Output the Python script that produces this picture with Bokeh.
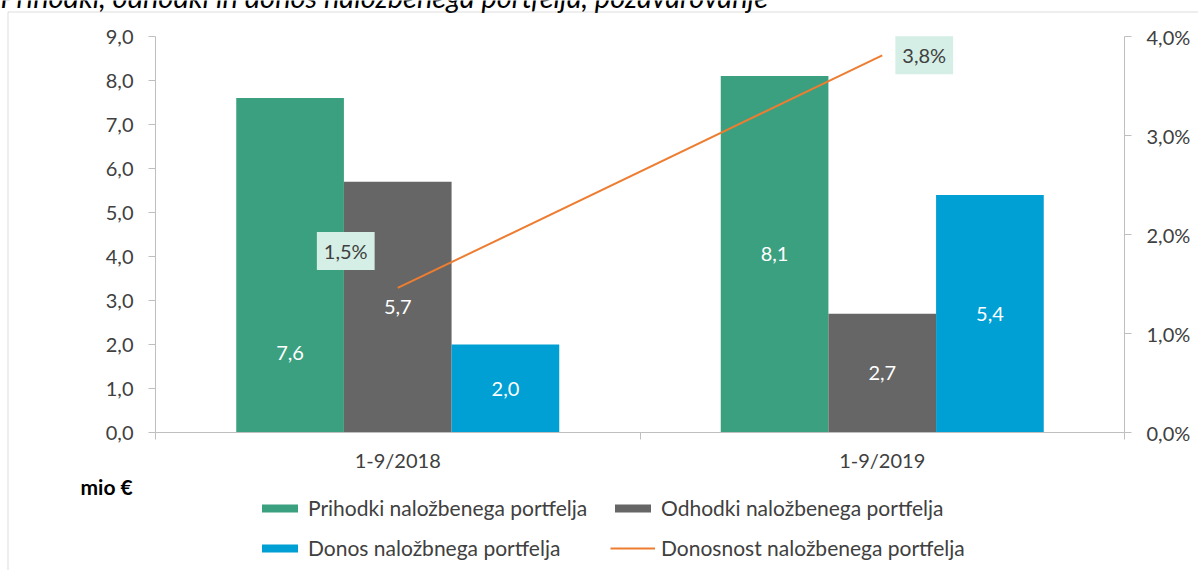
import numpy as np
from bokeh.plotting import figure
from bokeh.models import (ColumnDataSource, Range1d, LinearAxis, FixedTicker, Legend,
                          LegendItem, Label, BoxAnnotation)
from bokeh.core.properties import value
from bokeh.embed import file_html
from bokeh.resources import INLINE

# ---------------- data ----------------
title_text = "Prihodki, odhodki in donos naložbenega portfelja, pozavarovanje"
categories = ["1-9/2018", "1-9/2019"]
prihodki = [7.6, 8.1]
odhodki = [5.7, 2.7]
donos = [2.0, 5.4]
donosnost = [1.46, 3.81]          # %
series_names = ["Prihodki naložbenega portfelja",
                "Odhodki naložbenega portfelja",
                "Donos naložbnega portfelja",
                "Donosnost naložbenega portfelja"]
left_ticks = [0, 1, 2, 3, 4, 5, 6, 7, 8, 9]
left_tick_labels = ["0,0", "1,0", "2,0", "3,0", "4,0", "5,0", "6,0", "7,0", "8,0", "9,0"]
right_ticks = [0, 1, 2, 3, 4]
right_tick_labels = ["0,0%", "1,0%", "2,0%", "3,0%", "4,0%"]
unit_label = "mio €"

# ---------------- style / layout ----------------
FONT = "Lato"
FS = "20px"
TXT = "#404040"
AX = "#BFBFBF"
colors = ["#3BA07F", "#666666", "#009FD4"]
line_color = "#ED7D31"
box_fill = "#D5EFE6"
bar_label_dy = [[88, 0], [0, 0], [0, 0]]     # px shifts of bar labels (down)
pct_label_dx = [-52, 42]
pct_label_dy = [-37, 0]

W, H = 1198, 570
PL, PR, PT, PB = 155, 1124, 36, 432            # plot-area pixel box
n = len(categories)
ymax_l, ymax_r = left_ticks[-1], right_ticks[-1]
xppu = (PR - PL) / n
yppu_l = (PB - PT) / ymax_l
yppu_r = (PB - PT) / ymax_r
x_range = Range1d(-PL / xppu, n + (W - PR) / xppu)
y_range = Range1d(-(H - PB) / yppu_l, ymax_l + PT / yppu_l)
pct_range = Range1d(-(H - PB) / yppu_r, ymax_r + PT / yppu_r)

gap = 1.5
bw = 1.0 / (3 + gap)
centers = np.arange(n) + 0.5

p = figure(width=W, height=H, x_range=x_range, y_range=y_range,
           output_backend="svg", toolbar_location=None,
           x_axis_location=None, y_axis_location=None,
           min_border_left=0, min_border_right=0, min_border_top=0, min_border_bottom=0)
p.extra_y_ranges = {"pct": pct_range}
p.outline_line_color = None
p.grid.visible = False
p.background_fill_color = "white"
p.border_fill_color = "white"

def fmt(v, suffix=""):
    return f"{v:.1f}".replace(".", ",") + suffix

renderers = []
for k, vals in enumerate([prihodki, odhodki, donos]):
    xs = centers + (k - 1) * bw
    src = ColumnDataSource(dict(x=xs, top=vals, mid=np.array(vals) / 2.0,
                                lab=[fmt(v) for v in vals], dy=bar_label_dy[k]))
    r = p.vbar(x="x", top="top", bottom=0, width=bw, source=src,
               fill_color=colors[k], line_color=None)
    renderers.append(r)
    p.text(x="x", y="mid", text="lab", source=src, y_offset="dy",
           text_align="center", text_baseline="middle", text_color="white",
           text_font=value(FONT), text_font_size=FS)

lsrc = ColumnDataSource(dict(x=centers, y=donosnost, lab=[fmt(v, "%") for v in donosnost],
                             dx=pct_label_dx, dy=pct_label_dy))
lr = p.line(x="x", y="y", source=lsrc, y_range_name="pct", line_color=line_color, line_width=2)
renderers.append(lr)
p.text(x="x", y="y", text="lab", source=lsrc, y_range_name="pct", x_offset="dx", y_offset="dy",
       text_align="center", text_baseline="middle", text_color=TXT,
       text_font=value(FONT), text_font_size=FS,
       background_fill_color=box_fill, padding=7)

def style_axis(ax):
    ax.axis_line_color = AX
    ax.major_tick_line_color = AX
    ax.minor_tick_line_color = AX
    ax.major_label_text_font = FONT
    ax.major_label_text_font_size = FS
    ax.major_label_text_color = TXT

yl = LinearAxis(ticker=FixedTicker(ticks=left_ticks, minor_ticks=[]),
                major_label_overrides=dict(zip(left_ticks, left_tick_labels)),
                fixed_location=0, bounds=(0, ymax_l))
style_axis(yl)
yl.major_tick_out = 7
yl.major_tick_in = 0
yl.minor_tick_out = 0
yl.major_label_standoff = 15
p.add_layout(yl, "left")

yr = LinearAxis(y_range_name="pct", ticker=FixedTicker(ticks=right_ticks, minor_ticks=[]),
                major_label_overrides=dict(zip(right_ticks, right_tick_labels)),
                fixed_location=n, bounds=(0, ymax_r))
style_axis(yr)
yr.major_tick_out = 7
yr.major_tick_in = 0
yr.minor_tick_out = 0
yr.major_label_standoff = 15
p.add_layout(yr, "right")

xa = LinearAxis(ticker=FixedTicker(ticks=list(centers), minor_ticks=list(range(n + 1))),
                major_label_overrides=dict(zip([float(c) for c in centers], categories)),
                fixed_location=0, bounds=(0, n))
style_axis(xa)
xa.major_tick_line_color = None
xa.major_tick_out = 0
xa.major_tick_in = 0
xa.minor_tick_out = 7
xa.minor_tick_in = 0
xa.major_label_standoff = 8
p.add_layout(xa, "below")

items = [LegendItem(label=series_names[i], renderers=[renderers[i]]) for i in range(4)]
legend = Legend(items=items, ncols=2, orientation="horizontal", location=(257, 10),
                glyph_width=45, glyph_height=10, label_standoff=6, label_width=287,
                label_height=22, spacing=15, padding=0, margin=0,
                border_line_color=None, background_fill_alpha=0,
                label_text_font=FONT, label_text_font_size="21px", label_text_color=TXT)
p.add_layout(legend, "center")

p.add_layout(Label(x=80, y=H - 486, x_units="screen", y_units="screen", text=unit_label,
                   text_font=FONT, text_font_size="21px", text_font_style="bold",
                   text_color="#000000", text_baseline="middle", text_align="left"))
p.add_layout(Label(x=0, y=H + 4, x_units="screen", y_units="screen", text=title_text,
                   text_font=FONT, text_font_size="29px", text_font_style="italic",
                   text_color="#000000", text_baseline="alphabetic", text_align="left"))
p.add_layout(BoxAnnotation(left=7.5, right=3000, bottom=-3000, top=H - 11.5,
                           left_units="screen", right_units="screen",
                           bottom_units="screen", top_units="screen",
                           fill_alpha=0, line_color="#8C8C8C", line_width=1))

open("out.html", "w").write(file_html(p, INLINE))
